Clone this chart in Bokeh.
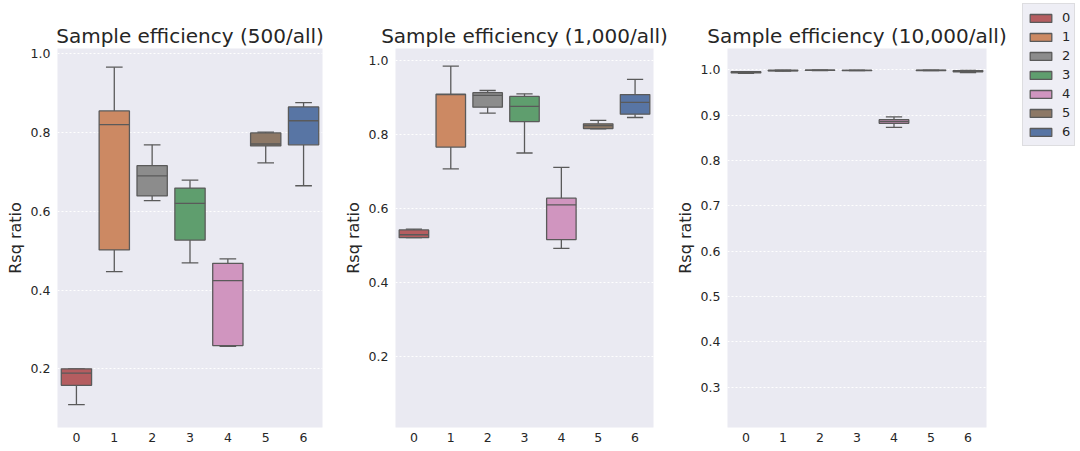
import colorsys
from bokeh.plotting import figure
from bokeh.layouts import row
from bokeh.models import (ColumnDataSource, Range1d, FixedTicker, Legend, LegendItem,
                          PrintfTickFormatter)
from bokeh.transform import dodge
from bokeh.embed import file_html
from bokeh.resources import INLINE

# ---------------- data ----------------
categories = ["0", "1", "2", "3", "4", "5", "6"]
xpos = [0, 1, 2, 3, 4, 5, 6]

# Panel 1: 500/all
p1_wlow = [0.109, 0.447, 0.627, 0.469, 0.257, 0.723, 0.665]
p1_q1   = [0.158, 0.502, 0.639, 0.527, 0.259, 0.766, 0.769]
p1_med  = [0.189, 0.820, 0.690, 0.620, 0.424, 0.771, 0.830]
p1_q3   = [0.200, 0.855, 0.716, 0.659, 0.468, 0.799, 0.865]
p1_whigh= [0.200, 0.966, 0.769, 0.679, 0.479, 0.801, 0.876]

# Panel 2: 1,000/all
p2_wlow = [0.521, 0.707, 0.858, 0.750, 0.492, 0.815, 0.846]
p2_q1   = [0.521, 0.766, 0.874, 0.835, 0.516, 0.816, 0.855]
p2_med  = [0.529, 0.908, 0.906, 0.876, 0.610, 0.824, 0.887]
p2_q3   = [0.542, 0.909, 0.913, 0.903, 0.628, 0.829, 0.908]
p2_whigh= [0.544, 0.985, 0.919, 0.910, 0.711, 0.838, 0.949]

# Panel 3: 10,000/all
p3_wlow = [0.9920, 0.9970, 0.9985, 0.9982, 0.873, 0.9980, 0.9940]
p3_q1   = [0.9932, 0.9975, 0.9988, 0.9984, 0.882, 0.9984, 0.9955]
p3_med  = [0.9945, 0.9982, 0.9990, 0.9986, 0.886, 0.9988, 0.9968]
p3_q3   = [0.9958, 0.9990, 0.9992, 0.9988, 0.890, 0.9991, 0.9982]
p3_whigh= [0.9962, 0.9995, 0.9994, 0.9990, 0.896, 0.9993, 0.9988]

titles = ["Sample efficiency (500/all)", "Sample efficiency (1,000/all)",
          "Sample efficiency (10,000/all)"]
y_ranges = [(0.051, 1.0135), (0.008, 1.0325), (0.211, 1.047)]
y_ticks = [[0.2, 0.4, 0.6, 0.8, 1.0], [0.2, 0.4, 0.6, 0.8, 1.0],
           [0.3, 0.4, 0.5, 0.6, 0.7, 0.8, 0.9, 1.0]]

base_colors = ["#C44E52", "#DD8452", "#8C8C8C", "#55A868", "#DA8BC3", "#937860", "#4C72B0"]


def desat(hexc, s=0.75):
    r, g, b = (int(hexc[i:i + 2], 16) / 255 for i in (1, 3, 5))
    h, l, sat = colorsys.rgb_to_hls(r, g, b)
    r, g, b = colorsys.hls_to_rgb(h, l, sat * s)
    return "#%02x%02x%02x" % (round(r * 255), round(g * 255), round(b * 255))


colors = [desat(c) for c in base_colors]

FONT = "DejaVu Sans"
TXT = "#262626"
LINE = "#5a5a5a"

panels = [
    (p1_wlow, p1_q1, p1_med, p1_q3, p1_whigh),
    (p2_wlow, p2_q1, p2_med, p2_q3, p2_whigh),
    (p3_wlow, p3_q1, p3_med, p3_q3, p3_whigh),
]
widths = [340, 332, 336]
left_borders = [57, 49, 49]
right_borders = [18, 19, 22]

figs = []
for k, (wl, q1, med, q3, wh) in enumerate(panels):
    src = ColumnDataSource(dict(x=xpos, wl=wl, q1=q1, med=med, q3=q3, wh=wh,
                                color=colors, cat=categories))
    p = figure(width=widths[k], height=451, output_backend="svg", toolbar_location=None,
               x_range=Range1d(-0.5, 6.5), y_range=Range1d(*y_ranges[k]),
               min_border_left=left_borders[k], min_border_right=right_borders[k],
               min_border_top=48, min_border_bottom=24,
               background_fill_color="#EAEAF2", border_fill_color="white",
               outline_line_color=None)
    p.title.text = titles[k]
    p.title.text_font = FONT
    p.title.text_font_size = "20px"
    p.title.text_font_style = "normal"
    p.title.text_color = TXT
    p.title.align = "center"
    p.title.standoff = 1

    # whiskers
    p.segment(x0="x", y0="wl", x1="x", y1="q1", source=src, line_color=LINE, line_width=1.3)
    p.segment(x0="x", y0="q3", x1="x", y1="wh", source=src, line_color=LINE, line_width=1.3)
    # caps
    p.segment(x0=dodge("x", -0.22), y0="wl", x1=dodge("x", 0.22), y1="wl", source=src,
              line_color=LINE, line_width=1.3)
    p.segment(x0=dodge("x", -0.22), y0="wh", x1=dodge("x", 0.22), y1="wh", source=src,
              line_color=LINE, line_width=1.3)
    # boxes
    p.vbar(x="x", width=0.8, bottom="q1", top="q3", source=src,
           fill_color="color", line_color=LINE, line_width=1.3)
    # medians
    p.segment(x0=dodge("x", -0.4), y0="med", x1=dodge("x", 0.4), y1="med", source=src,
              line_color=LINE, line_width=1.3)

    p.xaxis.ticker = FixedTicker(ticks=xpos)
    p.xaxis.major_label_overrides = {i: c for i, c in zip(xpos, categories)}
    p.yaxis.ticker = FixedTicker(ticks=y_ticks[k])
    p.yaxis.formatter = PrintfTickFormatter(format="%.1f")
    p.yaxis.axis_label = "Rsq ratio"
    for ax in (p.xaxis[0], p.yaxis[0]):
        ax.axis_line_color = None
        ax.major_tick_line_color = None
        ax.minor_tick_line_color = None
        ax.major_tick_out = 0
        ax.major_tick_in = 0
        ax.minor_tick_out = 0
        ax.minor_tick_in = 0
        ax.major_label_text_font = FONT
        ax.major_label_text_font_size = "12.5px"
        ax.major_label_text_color = TXT
    p.xaxis.major_label_standoff = 5
    p.yaxis.major_label_standoff = 7
    p.yaxis.axis_label_text_font = FONT
    p.yaxis.axis_label_text_font_size = "16px"
    p.yaxis.axis_label_text_font_style = "normal"
    p.yaxis.axis_label_text_color = TXT
    p.yaxis.axis_label_standoff = 3
    p.xgrid.grid_line_color = None
    p.ygrid.grid_line_color = "white"
    p.ygrid.grid_line_dash = "2 2"
    p.ygrid.grid_line_width = 1
    figs.append(p)

# ---- legend panel (figure that only hosts the legend; its box renderer is hidden) ----
lsrc = ColumnDataSource(dict(x=xpos, q1=p3_q1, q3=p3_q3, color=colors))
pl = figure(width=72, height=451, output_backend="svg", toolbar_location=None,
            x_range=Range1d(-0.5, 6.5), y_range=Range1d(0, 1),
            x_axis_location=None, y_axis_location=None,
            min_border=0, outline_line_color=None,
            background_fill_color="white", border_fill_color="white")
pl.frame_align = False
pl.grid.visible = False
lboxes = pl.vbar(x="x", width=0.8, bottom="q1", top="q3", source=lsrc,
                 fill_color="color", line_color=LINE, line_width=1.3)
lboxes.visible = False
items = [LegendItem(label=c, renderers=[lboxes], index=i) for i, c in enumerate(categories)]
leg = Legend(items=items, location=(14, 305), orientation="vertical",
             glyph_width=27, glyph_height=10, label_height=19, label_width=8,
             spacing=0, label_standoff=8, padding=4, margin=0,
             label_text_font=FONT, label_text_font_size="13px",
             label_text_color=TXT,
             inactive_fill_alpha=0.0,
             background_fill_color="#EAEAF2", background_fill_alpha=0.8,
             border_line_color="#cccccc", border_line_width=1)
pl.add_layout(leg, "center")

layout = row(*figs, pl, spacing=0)
open("out.html", "w").write(file_html(layout, INLINE))
